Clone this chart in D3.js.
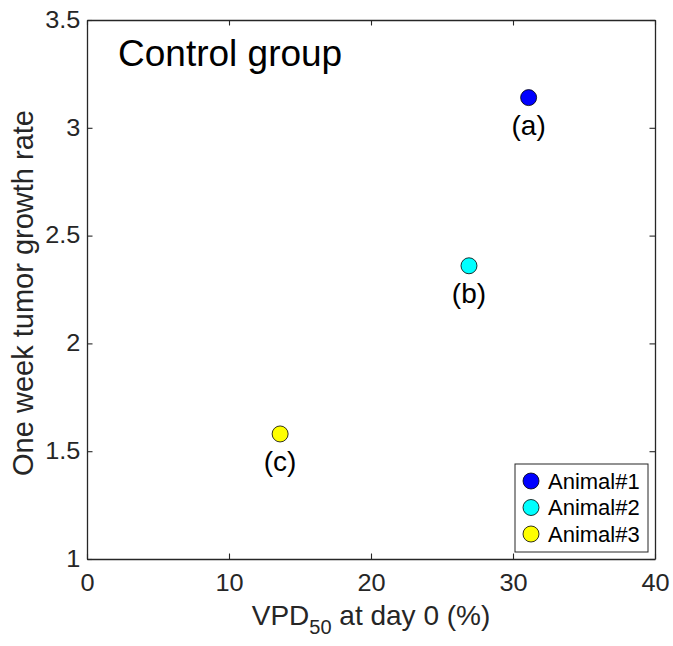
<!DOCTYPE html>
<html>
<head>
<meta charset="utf-8">
<script src="https://cdn.jsdelivr.net/npm/d3@7"></script>
<style>
  body { margin: 0; background: #fff; }
  text { font-family: "Liberation Sans", Arial, sans-serif; fill: #262626; }
</style>
</head>
<body>
<svg></svg>
<script>
// data
const animals = ["Animal#1", "Animal#2", "Animal#3"]
const labels = ["(a)", "(b)", "(c)"]
const vpd = [31.1, 26.9, 13.6]
const growth = [3.14, 2.36, 1.58]
const colors = ["#0000ff", "#00ffff", "#ffff00"]
const xTicks = [0, 10, 20, 30, 40]
const yTicks = [1, 1.5, 2, 2.5, 3, 3.5]

const svg = d3.select("svg")
  .attr("width", 673)
  .attr("height", 646)

// plot box edges
const pLeft = 87, pRight = 655, pTop = 20, pBottom = 559

const x = d3.scaleLinear().domain([0, 40]).range([pLeft, pRight])
const y = d3.scaleLinear().domain([1, 3.5]).range([pBottom, pTop])

const axisColor = "#262626"
const fmt = d => String(d)

// axes, ticks inside like matlab
const xAxis = svg.append("g")
  .attr("transform", `translate(0,${pBottom})`)
  .call(d3.axisBottom(x).tickValues(xTicks).tickFormat(fmt).tickSizeInner(-5.5).tickSizeOuter(0).tickPadding(16))
const xTop = svg.append("g")
  .attr("transform", `translate(0,${pTop})`)
  .call(d3.axisTop(x).tickValues(xTicks).tickSizeInner(-5.5).tickSizeOuter(0).tickFormat(""))
const yAxis = svg.append("g")
  .attr("transform", `translate(${pLeft},0)`)
  .call(d3.axisLeft(y).tickValues(yTicks).tickFormat(fmt).tickSizeInner(-5.5).tickSizeOuter(0).tickPadding(6))
const yRight = svg.append("g")
  .attr("transform", `translate(${pRight},0)`)
  .call(d3.axisRight(y).tickValues(yTicks).tickSizeInner(-5.5).tickSizeOuter(0).tickFormat(""))

;[xAxis, xTop, yAxis, yRight].forEach(g => {
  g.select(".domain").attr("stroke", axisColor).attr("stroke-width", 1.3)
  g.selectAll(".tick line").attr("stroke", axisColor).attr("stroke-width", 1.1)
  // matlab's font renders a bit wider than Liberation, stretch it
  g.selectAll(".tick text")
    .style("font-size", "23px")
    .attr("fill", axisColor)
    .attr("transform", "scale(1.1,1)")
})

// axis labels
const xl = svg.append("text")
  .attr("x", (pLeft + pRight) / 2)
  .attr("y", 625)
  .attr("text-anchor", "middle")
  .style("font-size", "28px")
xl.append("tspan").text("VPD")
xl.append("tspan").text("50").attr("dy", 9).style("font-size", "20px")
xl.append("tspan").text(" at day 0 (%)").attr("dy", -9)

svg.append("text")
  .attr("transform", `translate(33,293) rotate(-90)`)
  .attr("text-anchor", "middle")
  .style("font-size", "29px")
  .text("One week tumor growth rate")

svg.append("text")
  .attr("x", 118)
  .attr("y", 66)
  .style("font-size", "37px")
  .style("fill", "#000")
  .text("Control group")

// points
const pts = svg.selectAll("g.pt")
  .data(animals)
  .enter()
  .append("g")
  .attr("class", "pt")
  .attr("transform", (d, i) => `translate(${x(vpd[i])},${y(growth[i])})`)

pts.append("circle")
  .attr("r", 8)
  .attr("fill", (d, i) => colors[i])
  .attr("stroke", "#000")
  .attr("stroke-width", 0.8)

pts.append("text")
  .attr("y", 37)
  .attr("text-anchor", "middle")
  .style("font-size", "28px")
  .style("fill", "#000")
  .text((d, i) => labels[i])

// legend
const lg = svg.append("g")
lg.append("rect")
  .attr("x", 515).attr("y", 464)
  .attr("width", 133).attr("height", 88)
  .attr("fill", "#fff")
  .attr("stroke", axisColor)
  .attr("stroke-width", 1)

const rows = lg.selectAll("g.row")
  .data(animals)
  .enter()
  .append("g")
  .attr("class", "row")
  .attr("transform", (d, i) => `translate(531,${481 + i * 26.5})`)

rows.append("circle")
  .attr("r", 8)
  .attr("fill", (d, i) => colors[i])
  .attr("stroke", "#000")
  .attr("stroke-width", 0.8)

rows.append("text")
  .attr("x", 17)
  .attr("dy", "0.36em")
  .style("font-size", "22px")
  .style("fill", "#000")
  .text(d => d)
</script>
</body>
</html>
